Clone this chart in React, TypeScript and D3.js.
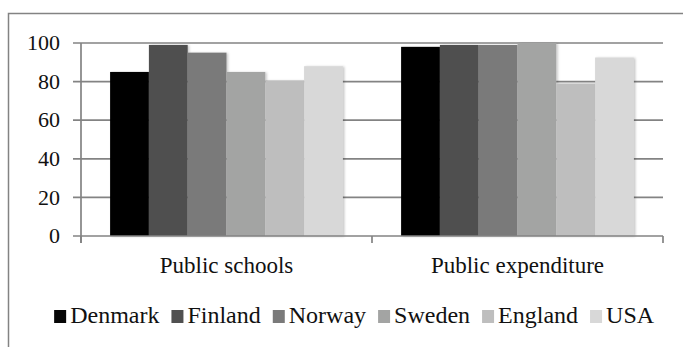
import React from 'react';
import * as d3 from 'd3';

const categories = ['Public schools', 'Public expenditure'];
const countries = ['Denmark', 'Finland', 'Norway', 'Sweden', 'England', 'USA'];
const colors = ['#060606', '#505050', '#7a7a7a', '#a3a4a3', '#bebebe', '#d8d8d8'];
// values per country, in category order
const denmark = [85, 98];
const finland = [99, 99];
const norway = [95, 99];
const sweden = [85, 100];
const england = [80.5, 79];
const usa = [88, 92.5];
const seriesValues = [denmark, finland, norway, sweden, england, usa];
const yTicks = [0, 20, 40, 60, 80, 100];

const W = 683;
const H = 347;
const FONT = 'Liberation Serif';
const GRID = '#838383';

const plot = { left: 81, right: 663, top: 43, bottom: 236 };

// rough text width for legend layout
const measure = (s: string, size: number): number => {
    const ctx = document.createElement('canvas').getContext('2d');
    if (!ctx) return s.length * size * 0.5;
    ctx.font = `${size}px ${FONT}`;
    return ctx.measureText(s).width;
};

const App: React.FC = () => {
    const y = d3.scaleLinear().domain([0, 100]).range([plot.bottom, plot.top]);
    const x0 = d3.scaleBand<string>()
        .domain(categories)
        .range([plot.left, plot.right])
        .paddingInner(0.2)
        .paddingOuter(0.1);
    const x1 = d3.scaleBand<string>().domain(countries).range([0, x0.bandwidth()]);
    const step = x0.step();
    const bounds = [0, 1, 2].map(i => plot.left + i * step);

    // legend layout
    const legendSize = 24;
    const sq = 12;
    const gapIcon = 4;
    const gapItem = 12;
    const widths = countries.map(c => measure(c, legendSize));
    const offsets: number[] = [];
    let acc = 0;
    widths.forEach(w => {
        offsets.push(acc);
        acc += sq + gapIcon + w + gapItem;
    });
    const total = acc - gapItem;
    const legendX = (56.5 + 651.7) / 2 - total / 2;

    return (
        <svg
            width={W}
            height={H}
            style={{ display: 'block', position: 'absolute', left: 0, top: 0, background: '#fff' }}
        >
            <defs>
                <filter id="shadow" x="-10%" y="-10%" width="130%" height="130%">
                    <feDropShadow dx={1.5} dy={0.5} stdDeviation={1.2} floodColor="#000" floodOpacity={0.22} />
                </filter>
            </defs>

            {/* chart border, runs past the right and bottom edges */}
            <rect x={8.5} y={13.5} width={720} height={360} fill="#fff" stroke={GRID} strokeWidth={1.5} />

            {yTicks.filter(t => t > 0).map(t => (
                <line key={t} x1={plot.left - 8} x2={plot.right} y1={y(t)} y2={y(t)} stroke={GRID} strokeWidth={1.7} />
            ))}

            {yTicks.map(t => (
                <text key={t} x={60} y={y(t)} dy="0.33em" textAnchor="end" fontFamily={FONT} fontSize={22} fill="#111">
                    {t}
                </text>
            ))}

            {categories.map((cat, ci) => (
                <g key={cat} transform={`translate(${x0(cat)},0)`}>
                    {countries.map((c, si) => {
                        const v = seriesValues[si][ci];
                        return (
                            <rect
                                key={c}
                                x={x1(c)}
                                y={y(v)}
                                width={x1.bandwidth()}
                                height={y(0) - y(v)}
                                fill={colors[si]}
                                filter="url(#shadow)"
                            />
                        );
                    })}
                </g>
            ))}

            {/* axes */}
            <line x1={plot.left} x2={plot.left} y1={plot.top} y2={plot.bottom + 7} stroke={GRID} strokeWidth={1.7} />
            <line x1={plot.left - 8} x2={plot.right} y1={plot.bottom} y2={plot.bottom} stroke={GRID} strokeWidth={1.7} />
            {bounds.map(b => (
                <line key={b} x1={b} x2={b} y1={plot.bottom} y2={plot.bottom + 7} stroke={GRID} strokeWidth={1.7} />
            ))}

            {categories.map(cat => (
                <text
                    key={cat}
                    x={x0(cat)! + x0.bandwidth() / 2}
                    y={273}
                    textAnchor="middle"
                    fontFamily={FONT}
                    fontSize={23}
                    fill="#111"
                >
                    {cat}
                </text>
            ))}

            <g transform={`translate(${legendX},0)`}>
                {countries.map((c, i) => (
                    <g key={c} transform={`translate(${offsets[i]},0)`}>
                        <rect x={0} y={310} width={sq} height={13} fill={colors[i]} />
                        <text x={sq + gapIcon} y={323} fontFamily={FONT} fontSize={legendSize} fill="#111">
                            {c}
                        </text>
                    </g>
                ))}
            </g>
        </svg>
    );
};

export default App;
